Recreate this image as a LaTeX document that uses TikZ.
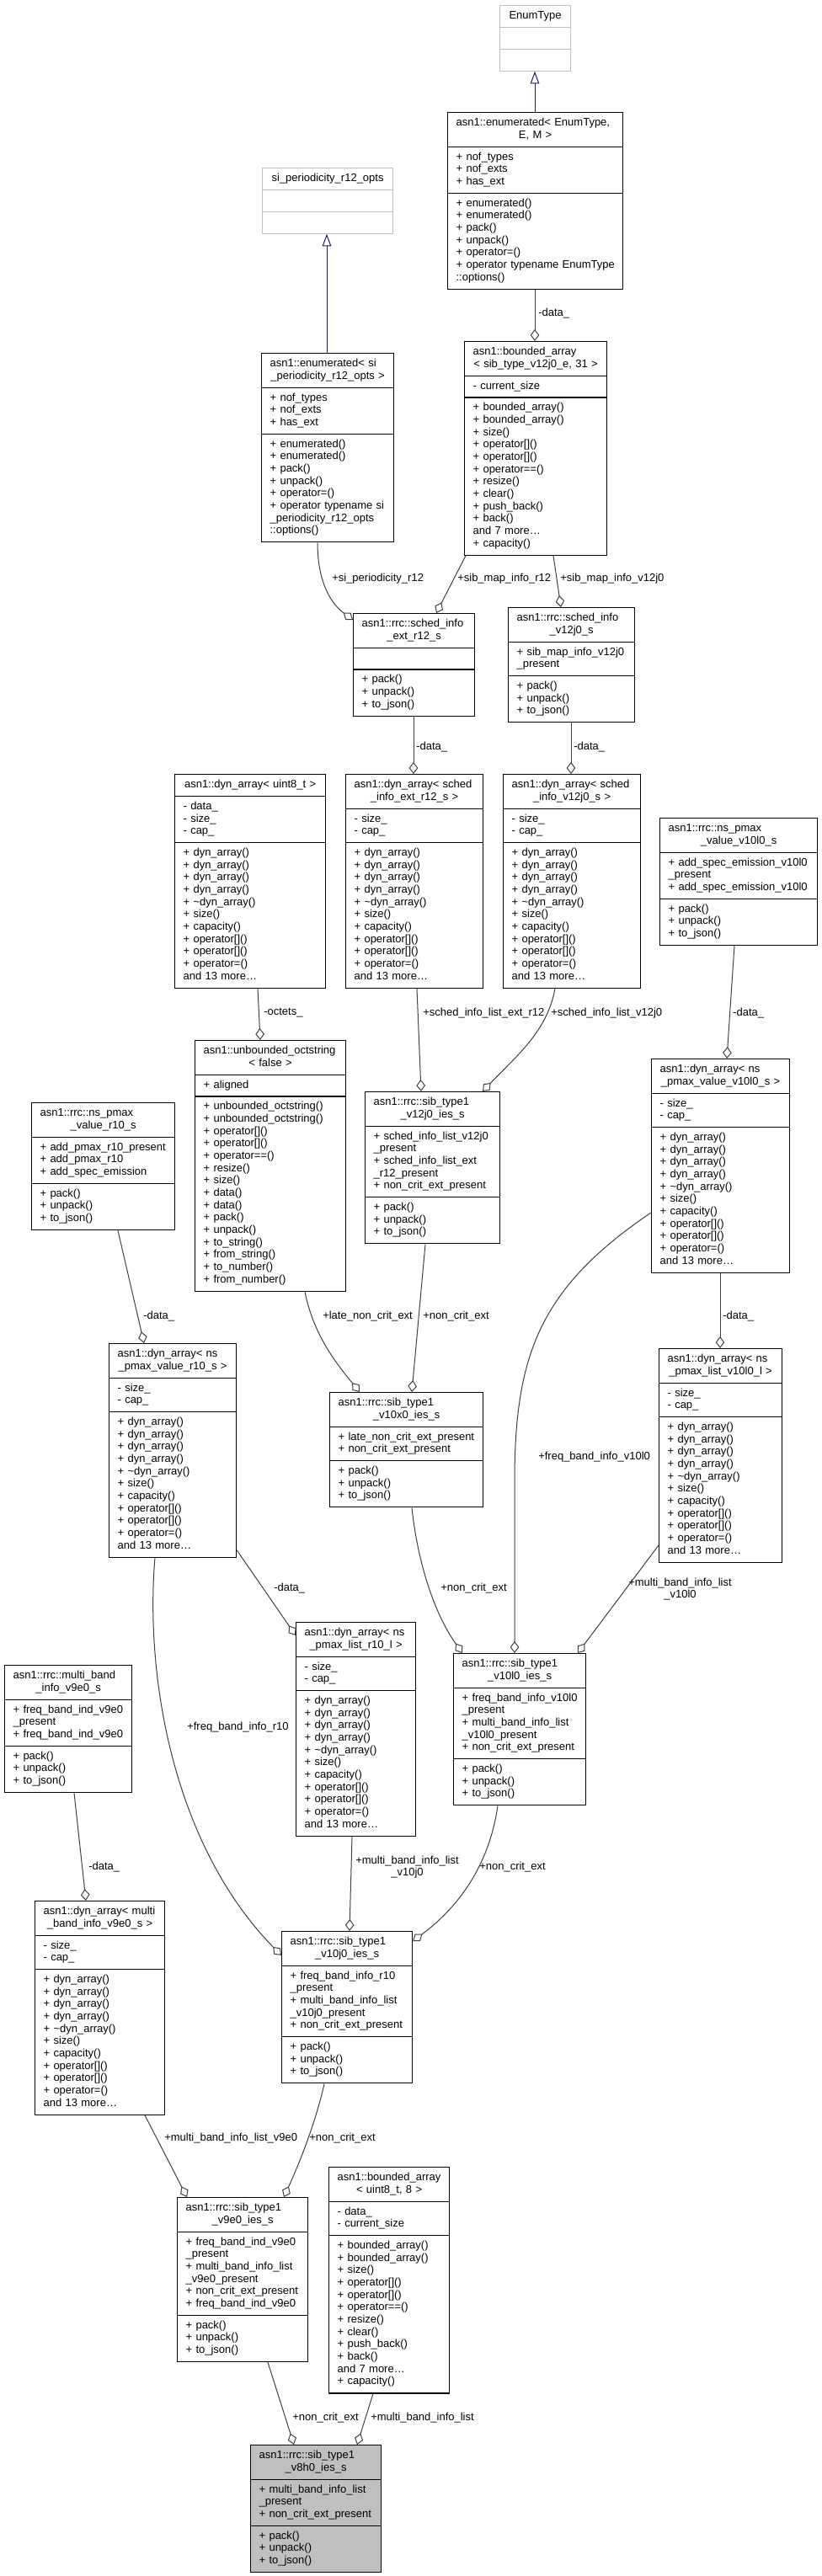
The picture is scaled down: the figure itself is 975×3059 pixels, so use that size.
\documentclass[tikz,border=0pt]{standalone}
\usepackage{fontspec}
\setmainfont{Liberation Sans}
\usepackage{tikz}
\usetikzlibrary{
  arrows.meta,
  calc,
  shapes.multipart
}
\definecolor{edgegray}{HTML}{404040}
\definecolor{inhblue}{HTML}{191970}
\definecolor{boxgray}{HTML}{BFBFBF}
\newcommand{\clsfont}{\fontsize{9.75pt}{11pt}\selectfont}
% class box parts: title lines and member lists
\newcommand{\ttl}[1]{\makebox[\hsize]{\strut#1}}
\newcommand{\ttll}[2]{\strut#1\par\makebox[\hsize]{#2\strut}}
\newcommand{\mlist}[1]{\begin{tabular}{@{}l@{}}#1\end{tabular}}
\newcommand{\dynops}{\mlist{+ dyn\_array()\\+ dyn\_array()\\+ dyn\_array()\\+ dyn\_array()\\%
  + \textasciitilde dyn\_array()\\+ size()\\+ capacity()\\+ operator[]()\\+ operator[]()\\%
  + operator=()\\and 13 more\dots}}
\newcommand{\iesops}{\mlist{+ pack()\\+ unpack()\\+ to\_json()}}
\newcommand{\bndops}{\mlist{+ bounded\_array()\\+ bounded\_array()\\+ size()\\+ operator[]()\\%
  + operator[]()\\+ operator==()\\+ resize()\\+ clear()\\+ push\_back()\\+ back()\\%
  and 7 more\dots\\+ capacity()}}

\begin{document}
\begin{tikzpicture}[
  x=0.75pt, y=-0.75pt,
  cls/.style={rectangle split, rectangle split parts=3, draw=black,
              line width=0.9pt, fill=white, font=\clsfont,
              inner xsep=7.5pt, inner ysep=3.75pt, anchor=north west,
              /utils/exec={\pgfmathsetmacro{\clswd}{0.75*#1-15}},
              text width=\clswd pt},
  clsgray/.style={cls=#1, draw=boxgray},
  clsfocus/.style={cls=#1, fill=boxgray},
  agg/.style={draw=edgegray, line width=0.75pt,
              -{Diamond[open, length=10.5pt, width=8pt]}},
  inh/.style={draw=inhblue, line width=0.75pt,
              -{Triangle[open, length=11pt, width=8pt]}},
  lbl/.style={font=\clsfont, inner sep=0pt, anchor=west},
]
  \path[fill=white, use as bounding box] (0,0) rectangle (975,3059);

  % base classes and templates
  \node[clsgray=84] (enumT) at (593,6)
    {\ttl{EnumType}\nodepart{two}\strut\nodepart{three}\strut};
  \node[cls=208] (enumE) at (531,133)
    {\ttll{asn1::enumerated< EnumType,}{E, M >}%
     \nodepart{two}\mlist{+ nof\_types\\+ nof\_exts\\+ has\_ext}%
     \nodepart{three}\mlist{+ enumerated()\\+ enumerated()\\+ pack()\\+ unpack()\\+ operator=()\\+ operator typename EnumType\\::options()}};
  \node[clsgray=155] (siOpts) at (311,199)
    {\ttl{si\_periodicity\_r12\_opts}\nodepart{two}\strut\nodepart{three}\strut};
  \node[cls=157] (enumSi) at (310,419)
    {\ttll{asn1::enumerated< si}{\_periodicity\_r12\_opts >}%
     \nodepart{two}\mlist{+ nof\_types\\+ nof\_exts\\+ has\_ext}%
     \nodepart{three}\mlist{+ enumerated()\\+ enumerated()\\+ pack()\\+ unpack()\\+ operator=()\\+ operator typename si\\\_periodicity\_r12\_opts\\::options()}};
  \node[cls=169] (bArr31) at (551,405)
    {\ttll{asn1::bounded\_array}{< sib\_type\_v12j0\_e, 31 >}%
     \nodepart{two}\mlist{- current\_size}\nodepart{three}\bndops};

  % sched info
  \node[cls=144] (schedExt) at (419,728)
    {\ttll{asn1::rrc::sched\_info}{\_ext\_r12\_s}%
     \nodepart{two}\strut\nodepart{three}\iesops};
  \node[cls=150] (schedV12) at (603,721)
    {\ttll{asn1::rrc::sched\_info}{\_v12j0\_s}%
     \nodepart{two}\mlist{+ sib\_map\_info\_v12j0\\\_present}\nodepart{three}\iesops};

  % dynamic arrays
  \node[cls=179] (dynU8) at (207,919)
    {\ttl{asn1::dyn\_array< uint8\_t >}%
     \nodepart{two}\mlist{- data\_\\- size\_\\- cap\_}\nodepart{three}\dynops};
  \node[cls=163] (dynExt) at (410,919)
    {\ttll{asn1::dyn\_array< sched}{\_info\_ext\_r12\_s >}%
     \nodepart{two}\mlist{- size\_\\- cap\_}\nodepart{three}\dynops};
  \node[cls=163] (dynV12) at (597,919)
    {\ttll{asn1::dyn\_array< sched}{\_info\_v12j0\_s >}%
     \nodepart{two}\mlist{- size\_\\- cap\_}\nodepart{three}\dynops};
  \node[cls=187] (nsV10) at (783,971)
    {\ttll{asn1::rrc::ns\_pmax}{\_value\_v10l0\_s}%
     \nodepart{two}\mlist{+ add\_spec\_emission\_v10l0\\\_present\\+ add\_spec\_emission\_v10l0}%
     \nodepart{three}\iesops};
  \node[cls=179] (octstr) at (231,1235)
    {\ttll{asn1::unbounded\_octstring}{< false >}%
     \nodepart{two}\mlist{+ aligned}%
     \nodepart{three}\mlist{+ unbounded\_octstring()\\+ unbounded\_octstring()\\+ operator[]()\\+ operator[]()\\+ operator==()\\+ resize()\\+ size()\\+ data()\\+ data()\\+ pack()\\+ unpack()\\+ to\_string()\\+ from\_string()\\+ to\_number()\\+ from\_number()}};
  \node[cls=170] (nsR10) at (37,1309)
    {\ttll{asn1::rrc::ns\_pmax}{\_value\_r10\_s}%
     \nodepart{two}\mlist{+ add\_pmax\_r10\_present\\+ add\_pmax\_r10\\+ add\_spec\_emission}%
     \nodepart{three}\iesops};
  \node[cls=160] (sibV12j0) at (433,1296)
    {\ttll{asn1::rrc::sib\_type1}{\_v12j0\_ies\_s}%
     \nodepart{two}\mlist{+ sched\_info\_list\_v12j0\\\_present\\+ sched\_info\_list\_ext\\\_r12\_present\\+ non\_crit\_ext\_present}%
     \nodepart{three}\iesops};
  \node[cls=164] (dynPV10) at (773,1257)
    {\ttll{asn1::dyn\_array< ns}{\_pmax\_value\_v10l0\_s >}%
     \nodepart{two}\mlist{- size\_\\- cap\_}\nodepart{three}\dynops};
  \node[cls=146] (dynLV10) at (782,1601)
    {\ttll{asn1::dyn\_array< ns}{\_pmax\_list\_v10l0\_l >}%
     \nodepart{two}\mlist{- size\_\\- cap\_}\nodepart{three}\dynops};
  \node[cls=151] (dynPR10) at (129,1595)
    {\ttll{asn1::dyn\_array< ns}{\_pmax\_value\_r10\_s >}%
     \nodepart{two}\mlist{- size\_\\- cap\_}\nodepart{three}\dynops};
  \node[cls=182] (sibV10x0) at (391,1653)
    {\ttll{asn1::rrc::sib\_type1}{\_v10x0\_ies\_s}%
     \nodepart{two}\mlist{+ late\_non\_crit\_ext\_present\\+ non\_crit\_ext\_present}%
     \nodepart{three}\iesops};
  \node[cls=142] (dynLR10) at (351,1926)
    {\ttll{asn1::dyn\_array< ns}{\_pmax\_list\_r10\_l >}%
     \nodepart{two}\mlist{- size\_\\- cap\_}\nodepart{three}\dynops};
  \node[cls=151] (multiBand) at (5,1977)
    {\ttll{asn1::rrc::multi\_band}{\_info\_v9e0\_s}%
     \nodepart{two}\mlist{+ freq\_band\_ind\_v9e0\\\_present\\+ freq\_band\_ind\_v9e0}%
     \nodepart{three}\iesops};
  \node[cls=157] (sibV10l0) at (538,1963)
    {\ttll{asn1::rrc::sib\_type1}{\_v10l0\_ies\_s}%
     \nodepart{two}\mlist{+ freq\_band\_info\_v10l0\\\_present\\+ multi\_band\_info\_list\\\_v10l0\_present\\+ non\_crit\_ext\_present}%
     \nodepart{three}\iesops};
  \node[cls=154] (dynMulti) at (41,2257)
    {\ttll{asn1::dyn\_array< multi}{\_band\_info\_v9e0\_s >}%
     \nodepart{two}\mlist{- size\_\\- cap\_}\nodepart{three}\dynops};
  \node[cls=155] (sibV10j0) at (334,2293)
    {\ttll{asn1::rrc::sib\_type1}{\_v10j0\_ies\_s}%
     \nodepart{two}\mlist{+ freq\_band\_info\_r10\\\_present\\+ multi\_band\_info\_list\\\_v10j0\_present\\+ non\_crit\_ext\_present}%
     \nodepart{three}\iesops};
  \node[cls=155] (sibV9e0) at (210,2609)
    {\ttll{asn1::rrc::sib\_type1}{\_v9e0\_ies\_s}%
     \nodepart{two}\mlist{+ freq\_band\_ind\_v9e0\\\_present\\+ multi\_band\_info\_list\\\_v9e0\_present\\+ non\_crit\_ext\_present\\+ freq\_band\_ind\_v9e0}%
     \nodepart{three}\iesops};
  \node[cls=143] (bArr8) at (390,2573)
    {\ttll{asn1::bounded\_array}{< uint8\_t, 8 >}%
     \nodepart{two}\mlist{- data\_\\- current\_size}\nodepart{three}\bndops};
  \node[clsfocus=155] (v8h0) at (297,2903)
    {\ttll{asn1::rrc::sib\_type1}{\_v8h0\_ies\_s}%
     \nodepart{two}\mlist{+ multi\_band\_info\_list\\\_present\\+ non\_crit\_ext\_present}%
     \nodepart{three}\iesops};

  % inheritance
  \draw[inh] ($(enumE.north west)+(104,0)$) -- ($(enumT.south west)+(42,0)$);
  \draw[inh] ($(enumSi.north west)+(78,0)$) -- ($(siOpts.south west)+(77,0)$);

  % members
  \draw[agg] ($(enumE.south west)+(104,0)$) -- ($(bArr31.north west)+(84,0)$);
  \draw[agg] ($(enumSi.south west)+(67,0)$) .. controls (377,690) and (392,716) .. ($(schedExt.north west)+(0,8)$);
  \draw[agg] ($(bArr31.south west)+(2,0)$) -- ($(schedExt.north west)+(99,0)$);
  \draw[agg] ($(bArr31.south west)+(106,0)$) -- ($(schedV12.north west)+(63,0)$);
  \draw[agg] ($(schedExt.south west)+(72,0)$) -- ($(dynExt.north west)+(81,0)$);
  \draw[agg] ($(schedV12.south west)+(75,0)$) -- ($(dynV12.north west)+(81,0)$);
  \draw[agg] ($(dynU8.south west)+(99,0)$) -- ($(octstr.north west)+(78,0)$);
  \draw[agg] ($(dynExt.south west)+(85,0)$) -- ($(sibV12j0.north west)+(67,0)$);
  \draw[agg] ($(dynV12.south west)+(62,0)$) .. controls (650,1225) and (612,1255) .. ($(sibV12j0.north west)+(140,0)$);
  \draw[agg] ($(nsV10.south west)+(89,0)$) -- ($(dynPV10.north west)+(90,0)$);
  \draw[agg] ($(octstr.south west)+(131,0)$) .. controls (372,1585) and (400,1620) .. ($(sibV10x0.north west)+(36,0)$);
  \draw[agg] ($(sibV12j0.south west)+(72,0)$) -- ($(sibV10x0.north west)+(98,0)$);
  \draw[agg] ($(nsR10.south west)+(103,0)$) -- ($(dynPR10.north west)+(42,0)$);
  \draw[agg] ($(dynPV10.south west)+(82,0)$) -- ($(dynLV10.north west)+(73,0)$);
  \draw[agg] ($(dynPV10.north west)+(0,183)$) .. controls (640,1530) and (611,1610) .. (611,1760) -- ($(sibV10l0.north west)+(73,0)$);
  \draw[agg] ($(sibV10x0.south west)+(98,0)$) .. controls (496,1855) and (515,1915) .. ($(sibV10l0.north west)+(11,0)$);
  \draw[agg] ($(dynLV10.north west)+(0,234)$) -- ($(sibV10l0.north west)+(148,0)$);
  \draw[agg] ($(dynPR10.south east)+(0,-9)$) -- ($(dynLR10.north west)+(0,16)$);
  \draw[agg] ($(dynPR10.south west)+(55,0)$) .. controls (172,1990) and (205,2190) .. ($(sibV10j0.north west)+(0,29)$);
  \draw[agg] ($(dynLR10.south west)+(67,0)$) -- ($(sibV10j0.north west)+(81,0)$);
  \draw[agg] ($(sibV10l0.south west)+(53,0)$) .. controls (580,2220) and (540,2268) .. ($(sibV10j0.north east)+(0,12)$);
  \draw[agg] ($(multiBand.south west)+(83,0)$) -- ($(dynMulti.north west)+(61,0)$);
  \draw[agg] ($(dynMulti.south west)+(131,0)$) -- ($(sibV9e0.north west)+(12,0)$);
  \draw[agg] ($(sibV10j0.south west)+(51,0)$) .. controls (375,2520) and (355,2570) .. ($(sibV9e0.north west)+(127,0)$);
  \draw[agg] ($(sibV9e0.south west)+(108,0)$) -- ($(v8h0.north west)+(52,0)$);
  \draw[agg] ($(bArr8.south west)+(53,0)$) -- ($(v8h0.north west)+(127,0)$);

  % member names
  \node[lbl] (lbEnumData) at (639,372) {-data\_};
  \node[lbl] (lbSiPer) at (394,687) {+si\_periodicity\_r12};
  \node[lbl] (lbMapR12) at (543,687) {+sib\_map\_info\_r12};
  \node[lbl] (lbMapV12) at (665,687) {+sib\_map\_info\_v12j0};
  \node[lbl] (lbExtData) at (494,887) {-data\_};
  \node[lbl] (lbV12Data) at (681,887) {-data\_};
  \node[lbl] (lbOctets) at (313,1203) {-octets\_};
  \node[lbl] (lbListExt) at (502,1203) {+sched\_info\_list\_ext\_r12};
  \node[lbl] (lbListV12) at (654,1203) {+sched\_info\_list\_v12j0};
  \node[lbl] (lbNsV10Data) at (870,1203) {-data\_};
  \node[lbl] (lbLateExt) at (383,1563) {+late\_non\_crit\_ext};
  \node[lbl] (lbExtV12) at (502,1563) {+non\_crit\_ext};
  \node[lbl] (lbNsR10Data) at (170,1563) {-data\_};
  \node[lbl] (lbPV10Data) at (858,1563) {-data\_};
  \node[lbl] (lbFreqV10) at (639,1730) {+freq\_band\_info\_v10l0};
  \node[lbl] (lbExtV10x0) at (523,1886) {+non\_crit\_ext};
  \node[lbl, align=center] (lbMultiV10l0) at (746,1887) {+multi\_band\_info\_list\\\_v10l0};
  \node[lbl] (lbPR10Data) at (325,1886) {-data\_};
  \node[lbl] (lbFreqR10) at (222,2051) {+freq\_band\_info\_r10};
  \node[lbl, align=center] (lbMultiV10j0) at (422,2217) {+multi\_band\_info\_list\\\_v10j0};
  \node[lbl] (lbExtV10l0) at (569,2217) {+non\_crit\_ext};
  \node[lbl] (lbMultiData) at (105,2217) {-data\_};
  \node[lbl] (lbMultiV9e0) at (195,2539) {+multi\_band\_info\_list\_v9e0};
  \node[lbl] (lbExtV10j0) at (367,2539) {+non\_crit\_ext};
  \node[lbl] (lbExtV9e0) at (347,2871) {+non\_crit\_ext};
  \node[lbl] (lbMultiList) at (440,2871) {+multi\_band\_info\_list};

\end{tikzpicture}
\end{document}
